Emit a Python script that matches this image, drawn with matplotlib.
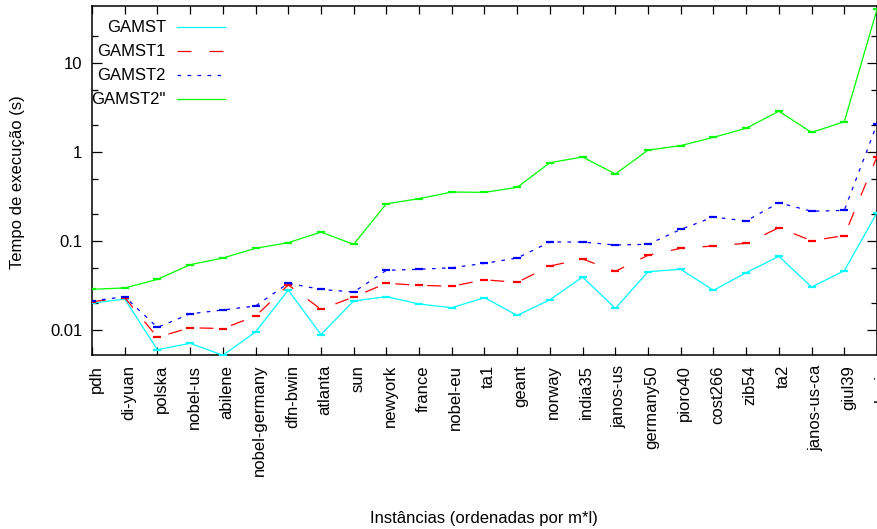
import matplotlib
matplotlib.use("Agg")
import matplotlib.pyplot as plt
import matplotlib.transforms as mtransforms
from matplotlib.ticker import LogLocator, NullFormatter, FixedLocator, FuncFormatter

plt.rcParams['font.family'] = ['Liberation Sans', 'DejaVu Sans']
plt.rcParams['lines.scale_dashes'] = False

FS = 12

# Instances, ordered by m*l
categories = ["pdh", "di-yuan", "polska", "nobel-us", "abilene", "nobel-germany",
              "dfn-bwin", "atlanta", "sun", "newyork", "france", "nobel-eu", "ta1",
              "geant", "norway", "india35", "janos-us", "germany50", "pioro40",
              "cost266", "zib54", "ta2", "janos-us-ca", "giul39", "brain"]

# Execution times (s)
gamst = [0.0200, 0.0223, 0.0060, 0.0071, 0.0052, 0.0095, 0.0281, 0.0089, 0.0212,
         0.0237, 0.0196, 0.0178, 0.0231, 0.0146, 0.0219, 0.0394, 0.0175, 0.0452,
         0.0481, 0.0279, 0.0441, 0.0673, 0.0304, 0.0464, 0.208]
gamst1 = [0.0208, 0.0231, 0.0083, 0.0106, 0.0104, 0.0143, 0.0321, 0.0171, 0.0235,
          0.0335, 0.0318, 0.0310, 0.0367, 0.0343, 0.0524, 0.0628, 0.0457, 0.0691,
          0.0828, 0.0879, 0.0942, 0.141, 0.1007, 0.115, 0.886]
gamst2 = [0.0212, 0.0237, 0.0107, 0.0152, 0.0168, 0.0186, 0.0335, 0.0286, 0.0267,
          0.0469, 0.0481, 0.0501, 0.0561, 0.0644, 0.0974, 0.0974, 0.0902, 0.0918,
          0.135, 0.186, 0.168, 0.269, 0.216, 0.221, 2.06]
gamst2pp = [0.0287, 0.0297, 0.0371, 0.0542, 0.0644, 0.0828, 0.0957, 0.126, 0.0918,
            0.262, 0.299, 0.355, 0.352, 0.401, 0.758, 0.879, 0.566, 1.05, 1.18,
            1.46, 1.85, 2.87, 1.66, 2.19, 40.1]

series = [
    ("GAMST", gamst, "#00ffff", "-"),
    ("GAMST1", gamst1, "#ff0000", (0, (10, 13))),
    ("GAMST2", gamst2, "#0000ff", (0, (2.6, 4.6))),
    ('GAMST2"', gamst2pp, "#00ff00", "-"),
]

fig = plt.figure(figsize=(8.78, 5.29), dpi=100)
W, H = 878, 529
x0, x1, y0, y1 = 92, 877, 6, 355
ax = fig.add_axes([x0 / W, 1 - y1 / H, (x1 - x0) / W, (y1 - y0) / H])

xs = list(range(len(categories)))
for name, vals, color, ls in series:
    ax.plot(xs, vals, color=color, linestyle=ls, linewidth=0.9, zorder=3)
    ax.plot(xs, vals, color=color, linestyle="none", marker="_",
            markersize=6, markeredgewidth=1.6, zorder=3)

ax.set_yscale("log")
ax.set_ylim(0.00524, 43.7)
ax.set_xlim(0, len(categories) - 1)

ax.yaxis.set_major_locator(FixedLocator([0.01, 0.1, 1, 10]))
ax.yaxis.set_major_formatter(FuncFormatter(
    lambda v, p: {0.01: "0.01", 0.1: "0.1", 1: "1", 10: "10"}.get(round(v, 4), "")))
ax.yaxis.set_minor_locator(LogLocator(base=10, subs=(2.0, 5.0), numticks=20))
ax.yaxis.set_minor_formatter(NullFormatter())

# Category labels: vertical text hanging below the axis
ax.set_xticks(xs)
ax.set_xticklabels([])
lbl_trans = ax.get_xaxis_transform() + mtransforms.ScaledTranslation(
    4 / 100, -10 / 100, fig.dpi_scale_trans)
for xi, name in zip(xs, categories):
    ax.text(xi, 0, name, transform=lbl_trans, rotation=90, ha="center",
            va="top", fontsize=FS, clip_on=False)

ax.tick_params(axis="both", which="both", direction="in", top=True, right=True,
               labelsize=FS, colors="black")
ax.tick_params(axis="y", which="major", length=7, width=0.9, pad=7)
ax.tick_params(axis="y", which="minor", length=4, width=0.9)
ax.tick_params(axis="x", which="major", length=6, width=0.9)
for sp in ax.spines.values():
    sp.set_linewidth(1.1)

fig.text(18 / W, 1 - 182 / H, "Tempo de execução (s)", rotation=90, ha="center",
         va="center", fontsize=FS)
fig.text(484 / W, 1 - 518 / H, "Instâncias (ordenadas por m*l)", ha="center",
         va="center", fontsize=FS)

# Key in the upper left: right-aligned titles followed by line samples
key_rows = [27.3, 51.3, 75.3, 99.0]
for (name, vals, color, ls), py in zip(series, key_rows):
    ya = (y1 - py) / (y1 - y0)
    ax.text((166 - x0) / (x1 - x0), ya, name, transform=ax.transAxes,
            ha="right", va="center", fontsize=FS)
    ax.plot([(177 - x0) / (x1 - x0), (225 - x0) / (x1 - x0)], [ya, ya],
            transform=ax.transAxes, color=color, linestyle=ls, linewidth=0.9,
            clip_on=False)

fig.savefig("out.png", dpi=100)
